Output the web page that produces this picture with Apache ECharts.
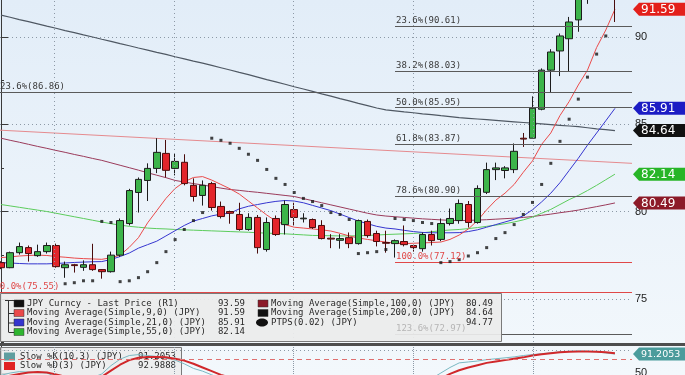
<!DOCTYPE html>
<html><head><meta charset="utf-8">
<script src="https://cdn.jsdelivr.net/npm/echarts@6/dist/echarts.min.js"></script>
<style>html,body{margin:0;padding:0;background:#fff}#c{width:685px;height:375px;background:linear-gradient(#e2edf8,#f3f8fc);}</style>
</head><body><div id="c"></div>
<script>
// ---- price data (one candle per index) ----
const opens  = [77.07,76.78,77.64,77.93,77.47,77.70,78.05,76.78,76.95,76.80,76.95,76.67,76.55,77.50,79.31,81.09,81.78,82.47,83.33,82.47,82.82,81.50,80.92,81.60,80.29,80.00,79.83,78.97,79.66,77.82,79.60,79.25,80.11,79.58,79.54,79.20,78.47,78.35,78.50,78.16,79.43,78.74,78.22,78.16,78.28,78.05,77.87,78.68,78.40,79.31,79.48,80.40,79.37,81.10,82.40,82.35,82.40,84.20,84.20,85.86,88.10,89.20,89.90,90.98,92.40,93.00,93.60,94.40];
const closes = [76.78,77.64,77.99,77.59,77.70,78.05,76.84,76.95,76.90,76.95,76.67,76.55,77.50,79.48,81.20,81.84,82.47,83.39,82.36,82.87,81.60,80.86,81.50,80.23,79.71,79.90,78.97,79.66,77.93,79.37,78.68,80.40,79.66,79.62,79.08,78.45,78.42,78.45,78.16,79.48,78.62,78.28,78.18,78.33,78.10,77.93,78.68,78.33,79.31,79.60,80.46,79.37,81.32,82.40,82.50,82.50,83.45,84.15,85.92,88.10,89.14,90.06,90.86,92.40,93.00,93.60,94.50,93.59];
const lows   = [76.70,76.75,77.53,77.13,77.40,77.59,76.78,76.20,76.50,76.60,76.60,76.15,76.50,77.40,79.20,79.94,80.60,82.20,81.95,82.07,81.50,80.57,80.34,80.05,79.60,79.30,78.90,78.90,77.59,77.70,78.60,78.68,79.20,79.37,79.00,78.40,77.90,77.87,77.90,78.10,78.50,78.00,77.64,77.36,78.00,77.70,77.70,78.05,78.30,79.20,79.30,79.08,79.30,81.00,81.80,81.90,82.20,83.70,84.20,85.80,86.80,87.76,88.00,90.30,91.90,92.60,93.20,90.86];
const highs  = [77.15,77.70,78.22,78.05,78.10,78.22,78.16,77.13,77.00,77.20,78.15,76.70,77.70,79.60,81.30,81.95,82.76,84.20,84.10,83.33,83.28,81.90,81.78,81.70,80.57,80.05,80.50,79.90,79.80,79.66,79.77,80.63,80.50,79.90,79.60,79.50,78.70,78.70,78.80,79.54,79.54,78.90,78.90,78.40,79.20,78.10,78.80,78.90,79.60,80.17,80.69,80.60,81.50,82.80,82.80,82.60,83.90,84.50,86.60,88.20,89.30,90.20,91.15,92.60,93.30,94.00,94.77,94.60];
// ---- studies ----
const ma9   = [77.36,77.40,77.45,77.48,77.50,77.48,77.42,77.38,77.33,77.30,77.28,77.26,77.35,77.50,77.95,78.50,79.35,80.05,80.75,81.32,81.70,81.95,82.00,81.80,81.55,81.30,81.00,80.60,80.20,79.80,79.45,79.25,79.10,79.05,79.00,78.95,78.88,78.75,78.60,78.48,78.40,78.32,78.25,78.18,78.16,78.18,78.20,78.22,78.25,78.40,78.65,79.00,79.48,80.10,80.65,81.05,81.55,82.25,82.90,83.85,84.50,85.50,86.30,87.25,88.10,89.40,90.40,91.59];
const ma21  = [77.07,77.05,77.02,77.00,77.00,77.00,77.02,77.05,77.08,77.10,77.12,77.13,77.25,77.42,77.62,77.90,78.10,78.30,78.60,78.90,79.20,79.45,79.60,79.75,79.85,79.90,80.15,80.30,80.40,80.50,80.58,80.63,80.60,80.50,80.35,80.20,80.05,79.85,79.65,79.45,79.30,79.15,79.05,79.00,78.92,78.85,78.80,78.78,78.78,78.78,78.79,78.85,78.95,79.10,79.25,79.40,79.55,79.75,80.10,80.55,81.05,81.65,82.35,83.05,83.80,84.50,85.20,85.91];
const ma55  = [80.40,80.32,80.24,80.16,80.08,80.00,79.90,79.80,79.70,79.60,79.50,79.40,79.30,79.22,79.15,79.10,79.05,79.02,79.00,78.97,78.95,78.93,78.91,78.89,78.87,78.85,78.83,78.81,78.78,78.76,78.74,78.72,78.69,78.66,78.63,78.62,78.61,78.60,78.60,78.61,78.63,78.65,78.68,78.70,78.72,78.74,78.78,78.84,78.90,78.94,78.97,79.02,79.08,79.15,79.22,79.30,79.40,79.52,79.68,79.90,80.12,80.40,80.68,80.92,81.20,81.50,81.82,82.14];
const ma100 = [84.20,84.08,83.97,83.85,83.73,83.62,83.50,83.39,83.27,83.16,83.04,82.93,82.79,82.65,82.51,82.37,82.22,82.08,81.94,81.78,81.69,81.60,81.52,81.43,81.34,81.26,81.21,81.15,81.10,81.04,80.98,80.92,80.86,80.74,80.62,80.50,80.38,80.26,80.14,80.02,79.90,79.80,79.74,79.70,79.66,79.62,79.58,79.55,79.52,79.49,79.48,79.49,79.51,79.53,79.56,79.59,79.62,79.66,79.71,79.78,79.85,79.93,80.00,80.08,80.18,80.28,80.38,80.49];
const ma200 = [91.25,91.13,91.00,90.88,90.75,90.62,90.50,90.37,90.25,90.12,90.00,89.87,89.75,89.62,89.50,89.37,89.25,89.12,89.00,88.87,88.75,88.62,88.50,88.37,88.24,88.11,87.97,87.84,87.70,87.56,87.43,87.29,87.15,87.02,86.88,86.74,86.61,86.47,86.34,86.20,86.07,85.93,85.82,85.77,85.71,85.66,85.60,85.55,85.49,85.44,85.38,85.34,85.30,85.26,85.22,85.18,85.14,85.10,85.06,85.02,84.98,84.94,84.90,84.86,84.80,84.74,84.69,84.64];
const ptps  = [null,null,null,null,null,null,null,75.86,75.92,76.03,76.03,79.43,79.37,75.98,76.03,76.21,76.55,77.07,77.70,78.39,78.97,79.48,79.94,84.20,84.08,83.91,83.62,83.28,82.93,82.41,81.90,81.55,81.09,80.75,80.57,80.34,79.94,79.83,79.54,77.59,77.64,77.70,77.82,79.60,79.54,79.48,79.37,79.31,77.07,77.13,77.24,77.45,77.64,77.93,78.45,78.79,79.25,79.83,80.52,81.55,82.76,84.02,85.29,86.44,87.70,89.02,90.06,94.77];
const stochK = [45,50,53,52,51,50,42,36,34,37,40,48,66,80,88,90,88,86,82,78,70,60,54,46,38,30,24,24,20,24,28,36,38,36,30,22,18,19,20,28,30,27,24,23,22,21,30,38,50,62,72,74,76,79,81,83,85,88,90,92,94,96,97,97.5,97,96,93.5,91.2053];
const stochD = [40,44,48,51,52,51,47,42,38,36,37,42,55,68,78,83,85,85,84,81,77,70,62,54,46,40,33,28,24,22,24,30,34,36,33,28,23,20,19,22,26,28,26,24,23,22,25,30,38,48,56,62,67,72,75,78,81,84,88,91,93,95,96,97,97,96,95,92.9888];
// trend line end values (left edge, right edge)
const trendLine = [84.66, 82.76];
// Fibonacci levels
const fibStartIndex = 43;
const fibRightLevels = [90.61, 88.03, 85.95, 83.87, 80.90, 77.12, 72.97];
const fibRightLabels = ['23.6%(90.61)','38.2%(88.03)','50.0%(85.95)','61.8%(83.87)','78.6%(80.90)','100.0%(77.12)','123.6%(72.97)'];
const fibLeftLevels = [86.86, 75.40];
const fibLeftLabels = ['23.6%(86.86)','100.0%(75.55)'];
// legend texts and last values
const legendCol1 = [['JPY Curncy - Last Price (R1)','93.59'],['Moving Average(Simple,9,0) (JPY)','91.59'],['Moving Average(Simple,21,0) (JPY)','85.91'],['Moving Average(Simple,55,0) (JPY)','82.14']];
const legendCol2 = [['Moving Average(Simple,100,0) (JPY)','80.49'],['Moving Average(Simple,200,0) (JPY)','84.64'],['PTPS(0.02) (JPY)','94.77']];
const stochLegend = [['Slow %K(10,3) (JPY)','91.2053'],['Slow %D(3) (JPY)','92.9888']];
const lastTags = [[91.59,'91.59'],[85.91,'85.91'],[84.64,'84.64'],[82.14,'82.14'],[80.49,'80.49']];
const stochTag = [91.2053,'91.2053'];
// vertical date grid positions (in candle index units)
const vGrid = [5.78, 18.88, 31.87, 44.96, 58.05];

// ---------------------------------------------------------------
const C = {up:'#3cb44a', down:'#e3252b', ma9:'#ea4a4a', ma21:'#3535cf', ma55:'#5ccc5c', ma100:'#9a3a5a', ma200:'#4f5863', trend:'#e58a8e', fib:'#5a5a5a', fibRed:'#e04848', k:'#7ab8c2', d:'#d0282b'};
const tagColors = ['#e3201b','#1c1cc4','#111111','#27b527','#8c1a28'];
const legendColors1 = ['#111111', C.ma9, C.ma21, '#2fb52f'];
const legendColors2 = ['#8c1a28','#111111','#111111'];
const X_MIN = -0.109, X_MAX = 68.86;
const chart = echarts.init(document.getElementById('c'), null, {renderer:'canvas'});
const xy = arr => arr.map((v,i)=>[i,v]);
const candleData = opens.map((o,i)=>[i,o,closes[i],lows[i],highs[i]]);
const ptpsData = ptps.map((v,i)=> v==null ? null : [i,v]).filter(Boolean);

const fibLines = [];
fibRightLevels.forEach((v,k)=>{
  const col = fibRightLabels[k].startsWith('100') ? C.fibRed : C.fib;
  fibLines.push([{coord:[fibStartIndex,v], lineStyle:{color:col,width:1,type:'solid'}},{coord:[X_MAX,v]}]);
});
fibLeftLevels.forEach((v,k)=>{
  const col = fibLeftLabels[k].startsWith('100') ? C.fibRed : C.fib;
  fibLines.push([{coord:[X_MIN,v], lineStyle:{color:col,width:1,type:'solid'}},{coord:[X_MAX,v]}]);
});
const vLines = vGrid.map(x=>({xAxis:x, lineStyle:{color:'#8d99a6', type:[1,3], width:1}}));

const line = (data,color,width,z) => ({type:'line', xAxisIndex:0, yAxisIndex:0, data:xy(data), showSymbol:false, symbol:'none', lineStyle:{color, width}, z:z||3, silent:true});

const option = {
  animation:false,
  backgroundColor:'transparent',
  grid:[{left:0,right:53,top:-50.25,height:436.25,outerBoundsMode:'none',containLabel:false},
        {left:0,right:53,top:345.4,height:50.6,outerBoundsMode:'none',containLabel:false}],
  xAxis:[{type:'value',gridIndex:0,min:X_MIN,max:X_MAX,show:false},{type:'value',gridIndex:1,min:X_MIN,max:X_MAX,show:false}],
  yAxis:[
    {type:'value',gridIndex:0,position:'right',min:70,max:95,interval:5,
     axisLine:{show:true,lineStyle:{color:'#3a3a3a',width:1}},
     axisTick:{show:true,length:7,lineStyle:{color:'#3a3a3a'}},
     minorTick:{show:true,splitNumber:2,length:3,lineStyle:{color:'#3a3a3a'}},
     axisLabel:{color:'#222',fontSize:11,fontFamily:'Liberation Sans',margin:3},
     splitLine:{show:true,lineStyle:{color:'#8d99a6',type:[1,3]}}},
    {type:'value',gridIndex:1,position:'right',min:0,max:110,interval:50,
     axisLine:{show:true,lineStyle:{color:'#3a3a3a',width:1}},
     axisTick:{show:true,length:7,lineStyle:{color:'#3a3a3a'}},
     axisLabel:{color:'#222',fontSize:11,fontFamily:'Liberation Sans',margin:3,formatter:v=>v===50?'50':''},
     splitLine:{show:false}}
  ],
  series:[
    {type:'line', xAxisIndex:0, yAxisIndex:0, data:[[X_MIN,trendLine[0]],[X_MAX,trendLine[1]]], showSymbol:false, symbol:'none', lineStyle:{color:C.trend,width:1}, z:2, silent:true,
     markLine:{silent:true, symbol:['none','none'], label:{show:false}, animation:false, data:[...vLines, ...fibLines]}},
    line(ma200, C.ma200, 1.2),
    line(ma100, C.ma100, 1),
    line(ma55, C.ma55, 1),
    line(ma21, C.ma21, 1),
    line(ma9, C.ma9, 1),
    {type:'candlestick', xAxisIndex:0, yAxisIndex:0, data:candleData, barWidth:7, z:4, silent:true,
     itemStyle:{color:C.up, color0:C.down, borderColor:'#1c1c1c', borderColor0:'#4a0c0c', borderWidth:1}},
    {type:'scatter', xAxisIndex:0, yAxisIndex:0, data:ptpsData, symbol:'rect', symbolSize:3, itemStyle:{color:'#151515'}, z:6, silent:true},
    {type:'line', xAxisIndex:1, yAxisIndex:1, data:xy(stochK), showSymbol:false, symbol:'none', lineStyle:{color:C.k,width:1}, z:3, silent:true,
     markLine:{silent:true, symbol:['none','none'], label:{show:false}, animation:false,
       data:[{yAxis:80, lineStyle:{color:'#e07070',type:[5,4],width:1}},{yAxis:100, lineStyle:{color:'#8d99a6',type:[1,3],width:1}}, ...vLines]}},
    {type:'line', xAxisIndex:1, yAxisIndex:1, data:xy(stochD), showSymbol:false, symbol:'none', lineStyle:{color:C.d,width:2}, z:4, silent:true}
  ]
};
chart.setOption(option);

// ---- overlay texts, legend boxes and value tags positioned through the chart's scales ----
const MONO = '9px "DejaVu Sans Mono"';
const g = [];
const P = (gi,x,y)=>chart.convertToPixel({gridIndex:gi},[x,y]);
fibRightLevels.forEach((v,k)=>{
  const p = P(0, fibStartIndex, v);
  const lab = fibRightLabels[k];
  const col = lab.startsWith('100') ? C.fibRed : (lab.startsWith('123') ? '#b5b5b5' : '#3a3a3a');
  g.push({type:'text', z:lab.startsWith('123')?80:60, silent:true, style:{text:lab, x:p[0]+1, y:p[1]-1, fill:col, font:MONO, textVerticalAlign:'bottom', verticalAlign:'bottom'}});
});
fibLeftLevels.forEach((v,k)=>{
  const p = P(0, X_MIN, v);
  const lab = fibLeftLabels[k];
  const col = lab.startsWith('100') ? C.fibRed : '#3a3a3a';
  const dx = lab.startsWith('100') ? -11 : 0;
  g.push({type:'text', z:60, silent:true, style:{text:lab, x:p[0]+dx, y:p[1]-1, fill:col, font:MONO, textVerticalAlign:'bottom', verticalAlign:'bottom'}});
});
// main legend box
g.push({type:'rect', z:70, silent:true, shape:{x:0.5,y:293.5,width:501,height:48}, style:{fill:'rgba(236,236,236,0.93)', stroke:'#7a7a7a', lineWidth:1}});
const rowsY = [303.5, 313, 322.5, 332];
g.push({type:'line', z:71, silent:true, shape:{x1:8.5,y1:300,x2:8.5,y2:332}, style:{stroke:'#333',lineWidth:1}});
g.push({type:'line', z:71, silent:true, shape:{x1:5,y1:300.5,x2:14,y2:300.5}, style:{stroke:'#333',lineWidth:1}});
legendCol1.forEach((r,k)=>{
  const y = rowsY[k];
  if(k>0) g.push({type:'line', z:71, silent:true, shape:{x1:8.5,y1:y+0.5,x2:14,y2:y+0.5}, style:{stroke:'#333',lineWidth:1}});
  g.push({type:'rect', z:71, silent:true, shape:{x:14,y:y-3.5,width:10,height:7}, style:{fill:legendColors1[k], stroke:'#333', lineWidth:0.5}});
  g.push({type:'text', z:72, silent:true, style:{text:r[0], x:27, y:y, fill:'#2a2a2a', font:MONO, textVerticalAlign:'middle', verticalAlign:'middle'}});
  g.push({type:'text', z:72, silent:true, style:{text:r[1], x:245, y:y, fill:'#2a2a2a', font:MONO, textAlign:'right', align:'right', textVerticalAlign:'middle', verticalAlign:'middle'}});
});
legendCol2.forEach((r,k)=>{
  const y = rowsY[k];
  if(k===2) g.push({type:'ellipse', z:71, silent:true, shape:{cx:262,cy:y,rx:6,ry:4}, style:{fill:legendColors2[k]}});
  else g.push({type:'rect', z:71, silent:true, shape:{x:258,y:y-3.5,width:10,height:7}, style:{fill:legendColors2[k], stroke:'#333', lineWidth:0.5}});
  g.push({type:'text', z:72, silent:true, style:{text:r[0], x:271, y:y, fill:'#2a2a2a', font:MONO, textVerticalAlign:'middle', verticalAlign:'middle'}});
  g.push({type:'text', z:72, silent:true, style:{text:r[1], x:493, y:y, fill:'#2a2a2a', font:MONO, textAlign:'right', align:'right', textVerticalAlign:'middle', verticalAlign:'middle'}});
});
// separator between panels
g.push({type:'rect', z:75, silent:true, shape:{x:0,y:343,width:685,height:3}, style:{fill:'#4e4e4e'}});
// stochastic legend (drawn under the curves)
g.push({type:'rect', z:1, silent:true, shape:{x:0.5,y:347.5,width:181,height:30}, style:{fill:'rgba(236,236,236,0.85)', stroke:'#7a7a7a', lineWidth:1}});
const sColors = ['#5f9ea0','#e02222'];
[356.5, 366].forEach((y,k)=>{
  g.push({type:'rect', z:1, silent:true, shape:{x:4,y:y-4,width:11,height:8}, style:{fill:sColors[k]}});
  g.push({type:'text', z:1, silent:true, style:{text:stochLegend[k][0], x:20, y:y, fill:'#2a2a2a', font:MONO, textVerticalAlign:'middle', verticalAlign:'middle'}});
  g.push({type:'text', z:1, silent:true, style:{text:stochLegend[k][1], x:176, y:y, fill:'#2a2a2a', font:MONO, textAlign:'right', align:'right', textVerticalAlign:'middle', verticalAlign:'middle'}});
});
// value tags on the right axis
function tag(y, color, text, fs){
  g.push({type:'polygon', z:90, silent:true, shape:{points:[[633,y],[639,y-6.5],[685,y-6.5],[685,y+6.5],[639,y+6.5]]}, style:{fill:color}});
  g.push({type:'text', z:91, silent:true, style:{text, x:641, y:y+0.5, fill:'#ffffff', font:(fs||12)+'px "DejaVu Sans"', textVerticalAlign:'middle', verticalAlign:'middle'}});
}
lastTags.forEach((t,k)=> tag(chart.convertToPixel({yAxisIndex:0}, t[0]), tagColors[k], t[1]));
tag(chart.convertToPixel({yAxisIndex:1}, stochTag[0]), '#4b9c9c', stochTag[1], 9.5);
chart.setOption({graphic:{elements:g}});
</script></body></html>
